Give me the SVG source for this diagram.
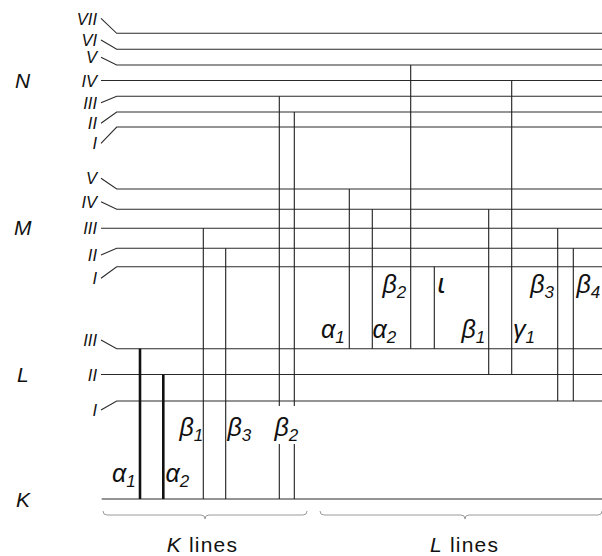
<svg xmlns="http://www.w3.org/2000/svg" width="602" height="556" viewBox="0 0 602 556">
  <style>
    .lvl { stroke: #2a2a2a; stroke-width: 1.1; fill: none; }
    .tr { stroke: #1e1e1e; stroke-width: 1.1; }
    .tr-thick { stroke: #111; stroke-width: 2.6; }
    .num { font-family: "Liberation Sans", Arial, sans-serif; font-style: italic; font-size: 16.5px; text-anchor: end; fill: #111; }
    .shell { font-family: "Liberation Sans", Arial, sans-serif; font-style: italic; font-size: 21px; fill: #111; }
    .gr { font-family: "Liberation Sans", Arial, sans-serif; font-style: italic; font-size: 25px; fill: #111; }
    .iota { font-family: "DejaVu Sans", sans-serif; font-style: italic; font-size: 27px; fill: #111; }
    .sub { font-size: 17px; }
    .brace { stroke: #9a9a9a; stroke-width: 1; fill: none; }
    .cap { font-family: "Liberation Sans", Arial, sans-serif; font-size: 21px; letter-spacing: 1.2px; fill: #111; }
  </style>

  <!-- N shell: sublevels I..VII -->
  <g id="shell-N">
    <text class="shell" x="15" y="88">N</text>
    <text class="num" x="97" y="24.5">VII</text>
    <text class="num" x="97" y="46">VI</text>
    <text class="num" x="97" y="63.3">V</text>
    <text class="num" x="97" y="86.5">IV</text>
    <text class="num" x="97" y="108.7">III</text>
    <text class="num" x="97" y="129.3">II</text>
    <text class="num" x="97" y="149.3">I</text>
    <polyline class="lvl" points="101,18.3 116.7,33.3 602,33.3"/>
    <polyline class="lvl" points="101,40 116.7,49.3 602,49.3"/>
    <polyline class="lvl" points="101,57.3 116.7,65 602,65"/>
    <polyline class="lvl" points="101,80.5 602,80.5"/>
    <polyline class="lvl" points="101,102.7 116.7,96.3 602,96.3"/>
    <polyline class="lvl" points="101,123.3 116.7,112 602,112"/>
    <polyline class="lvl" points="101,143.3 116.7,127 602,127"/>
  </g>

  <!-- M shell: sublevels I..V -->
  <g id="shell-M">
    <text class="shell" x="14" y="235">M</text>
    <text class="num" x="97" y="184.3">V</text>
    <text class="num" x="97" y="207.7">IV</text>
    <text class="num" x="97" y="234.3">III</text>
    <text class="num" x="97" y="261">II</text>
    <text class="num" x="97" y="284.3">I</text>
    <polyline class="lvl" points="101,178.3 116.7,189 602,189"/>
    <polyline class="lvl" points="101,201.7 116.7,209.3 602,209.3"/>
    <polyline class="lvl" points="101,228.3 602,228.3"/>
    <polyline class="lvl" points="101,255 116.7,248.3 602,248.3"/>
    <polyline class="lvl" points="101,278.3 116.7,266.7 602,266.7"/>
  </g>

  <!-- L shell: sublevels I..III -->
  <g id="shell-L">
    <text class="shell" x="17" y="382">L</text>
    <text class="num" x="97" y="346">III</text>
    <text class="num" x="97" y="380.5">II</text>
    <text class="num" x="97" y="416">I</text>
    <polyline class="lvl" points="101,340 116.7,348.7 602,348.7"/>
    <polyline class="lvl" points="101,374.5 602,374.5"/>
    <polyline class="lvl" points="101,410 116.7,401 602,401"/>
  </g>

  <!-- K shell -->
  <g id="shell-K">
    <text class="shell" x="16" y="506.7">K</text>
    <line class="lvl" x1="101.7" y1="499" x2="602" y2="499"/>
  </g>

  <!-- transitions -->
  <g id="transitions">
    <!-- K series -->
    <line class="tr-thick" x1="140" y1="348.7" x2="140" y2="499"/>
    <line class="tr-thick" x1="163.3" y1="374.5" x2="163.3" y2="499"/>
    <line class="tr" x1="203.3" y1="228.3" x2="203.3" y2="499"/>
    <line class="tr" x1="225.7" y1="248.3" x2="225.7" y2="499"/>
    <line class="tr" x1="279.3" y1="96.3" x2="279.3" y2="499"/>
    <line class="tr" x1="294.3" y1="112" x2="294.3" y2="499"/>
    <!-- L series -->
    <line class="tr" x1="349.3" y1="189" x2="349.3" y2="348.7"/>
    <line class="tr" x1="372.3" y1="209.3" x2="372.3" y2="348.7"/>
    <line class="tr" x1="410.7" y1="65" x2="410.7" y2="348.7"/>
    <line class="tr" x1="434.3" y1="266.7" x2="434.3" y2="348.7"/>
    <line class="tr" x1="488.7" y1="209.3" x2="488.7" y2="374.5"/>
    <line class="tr" x1="511.7" y1="80.5" x2="511.7" y2="374.5"/>
    <line class="tr" x1="557.7" y1="228.3" x2="557.7" y2="401"/>
    <line class="tr" x1="573.3" y1="248.3" x2="573.3" y2="401"/>
  </g>

  <!-- line labels -->
  <g id="labels-K">
    <text class="gr" x="112" y="482">α<tspan class="sub" dy="5">1</tspan></text>
    <text class="gr" x="165.5" y="482">α<tspan class="sub" dy="5">2</tspan></text>
    <text class="gr" x="179.5" y="436">β<tspan class="sub" dy="5">1</tspan></text>
    <text class="gr" x="227.5" y="436">β<tspan class="sub" dy="5">3</tspan></text>
    <rect x="275" y="406" width="23" height="38" fill="#fff"/>
    <text class="gr" x="274.5" y="436">β<tspan class="sub" dy="5">2</tspan></text>
  </g>
  <g id="labels-L">
    <text class="gr" x="321" y="338">α<tspan class="sub" dy="5">1</tspan></text>
    <text class="gr" x="372.5" y="338">α<tspan class="sub" dy="5">2</tspan></text>
    <text class="gr" x="382.5" y="293">β<tspan class="sub" dy="5">2</tspan></text>
    <text class="iota" x="437" y="293">ι</text>
    <text class="gr" x="461.5" y="338">β<tspan class="sub" dy="5">1</tspan></text>
    <text class="gr" x="513" y="338">γ<tspan class="sub" dy="5">1</tspan></text>
    <text class="gr" x="530.2" y="293">β<tspan class="sub" dy="5">3</tspan></text>
    <text class="gr" x="576.5" y="293">β<tspan class="sub" dy="5">4</tspan></text>
  </g>

  <!-- series braces and captions -->
  <g id="series-K">
    <path class="brace" d="M103,511 Q103,515 107,515 H201 Q205,515 205,519 Q205,515 209,515 H303 Q307,515 307,511"/>
    <text class="cap" x="166.7" y="552"><tspan font-style="italic">K</tspan> lines</text>
  </g>
  <g id="series-L">
    <path class="brace" d="M320,511 Q320,515 324,515 H461 Q465,515 465,519 Q465,515 469,515 H598 Q602,515 602,511"/>
    <text class="cap" x="430" y="552"><tspan font-style="italic">L</tspan> lines</text>
  </g>
</svg>
